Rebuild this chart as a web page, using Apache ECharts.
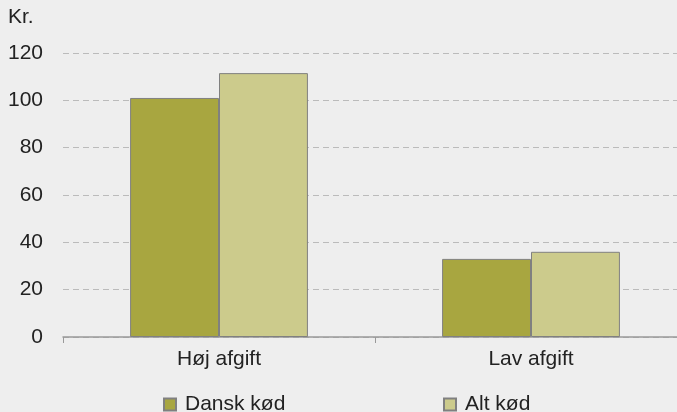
<!DOCTYPE html>
<html>
<head>
<meta charset="UTF-8">
<title>Kød afgift</title>
<style>
  html, body { margin: 0; padding: 0; background: #eeeeee; }
  #main { width: 677px; height: 412px; }
</style>
</head>
<body>
<div id="main"></div>
<script src="https://cdn.jsdelivr.net/npm/echarts@6/dist/echarts.min.js"></script>
<script>
var categories = ['Høj afgift', 'Lav afgift'];
var danskKod = [101, 33];
var altKod = [111.5, 36];
var yTicks = [0, 20, 40, 60, 80, 100, 120];

var myChart = echarts.init(document.getElementById('main'));
var font = 'Liberation Sans, Arial, sans-serif';

var legendBase = {
    top: 394,
    padding: 0,
    itemWidth: 12,
    itemHeight: 12,
    itemGap: 0,
    icon: 'rect',
    textStyle: { fontSize: 21, color: '#222', padding: [0, 0, 0, 4] }
};

myChart.setOption({
    backgroundColor: '#eeeeee',
    animation: false,
    textStyle: { fontFamily: font },
    graphic: [{
        type: 'text', left: 8, top: 7,
        style: { text: 'Kr.', fontSize: 21, fill: '#222', fontFamily: font }
    }],
    legend: [
        Object.assign({}, legendBase, { left: 163, data: ['Dansk kød'] }),
        Object.assign({}, legendBase, { left: 443, data: ['Alt kød'] })
    ],
    grid: { left: 63, width: 624, top: 53, bottom: 75, outerBoundsMode: 'none' },
    xAxis: {
        type: 'category',
        data: categories,
        axisLine: { lineStyle: { color: '#999999', width: 1.5 } },
        axisTick: { show: true, length: 6, lineStyle: { color: '#999999' } },
        axisLabel: { fontSize: 21, color: '#222', margin: 12 }
    },
    yAxis: {
        type: 'value',
        min: yTicks[0],
        max: yTicks[yTicks.length - 1],
        interval: 20,
        axisLine: { show: false },
        axisTick: { show: false },
        axisLabel: { fontSize: 21, color: '#222', margin: 20 },
        splitLine: { lineStyle: { color: '#bbbbbb', type: [6, 4], width: 1 } }
    },
    series: [{
        name: 'Dansk kød',
        type: 'bar',
        data: danskKod,
        barGap: '0%',
        barCategoryGap: '43%',
        itemStyle: { color: '#a8a640', borderColor: '#808080', borderWidth: 1 }
    }, {
        name: 'Alt kød',
        type: 'bar',
        data: altKod,
        itemStyle: { color: '#cccb8c', borderColor: '#808080', borderWidth: 1 }
    }]
});
</script>
</body>
</html>
